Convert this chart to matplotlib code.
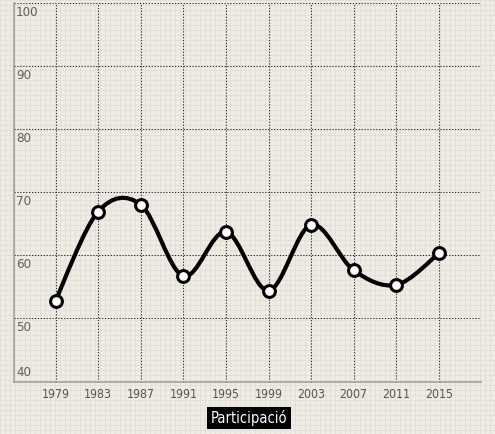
import numpy as np
import matplotlib
matplotlib.use("Agg")
import matplotlib.pyplot as plt
from matplotlib.path import Path
from matplotlib.patches import PathPatch
import matplotlib.transforms as mtransforms

plt.rcParams['font.family'] = ['Liberation Sans Narrow', 'DejaVu Sans']
plt.rcParams['font.stretch'] = 'condensed'

# dades
anys = [1979, 1983, 1987, 1991, 1995, 1999, 2003, 2007, 2011, 2015]
participacio = [52.8, 66.9, 68.0, 56.7, 63.7, 54.4, 64.8, 57.6, 55.3, 60.3]
yticks = [50, 60, 70, 80, 90, 100]
ylabels = ['50', '60', '70', '80', '90', '100']
serie = 'Participació'

W, H = 495, 434
fig = plt.figure(figsize=(W / 100, H / 100), dpi=100)

# fons quadriculat
bg = np.ones((H, W, 3)) * np.array([239, 236, 230]) / 255
line_c = np.array([228, 224, 216]) / 255
for i in range(0, H, 5):
    bg[i, :, :] = line_c
for j in range(0, W, 5):
    bg[:, j, :] = line_c
fig.figimage(bg, xo=0, yo=0, zorder=-10)

ax = fig.add_axes([14 / W, 1 - 381.5 / H, (481 - 14) / W, (381.5 - 2.5) / H])
ax.set_zorder(5)
ax.patch.set_alpha(0)
ax.set_xlim(1975.1, 2018.95)
ax.set_ylim(40, 100)

dot = dict(color='#2a2a2a', lw=0.75, linestyle=(0, (1.2, 1.6)), zorder=1)
for y in yticks:
    ax.axhline(y, **dot)
for x in anys:
    ax.axvline(x, **dot)
ax.axvline(ax.get_xlim()[1], **dot)

for s in ['top', 'right']:
    ax.spines[s].set_visible(False)
for s in ['left', 'bottom']:
    ax.spines[s].set_color('#a0a0a0')
    ax.spines[s].set_linewidth(1.2)

ax.set_yticks([])
ax.set_xticks(anys)
ax.set_xticklabels([str(a) for a in anys], color='#555555', fontsize=8.8)
ax.tick_params(axis='x', length=0, pad=5)

# etiquetes de l'eix y dins del gràfic
trans = mtransforms.blended_transform_factory(ax.transAxes, ax.transData)
off = mtransforms.offset_copy(trans, fig=fig, x=2, y=-3, units='dots')
for y, lab in zip(yticks, ylabels):
    ax.text(0, y, lab, transform=off, ha='left', va='top', color='#606060',
            fontsize=9.5)
off40 = mtransforms.offset_copy(trans, fig=fig, x=2, y=2, units='dots')
ax.text(0, 40, '40', transform=off40, ha='left', va='bottom', color='#606060',
        fontsize=9.5)

# corba suavitzada (Catmull-Rom) amb beziers
x = np.array(anys, dtype=float)
y = np.array(participacio, dtype=float)
n = len(x)
verts = [(x[0], y[0])]
codes = [Path.MOVETO]
for i in range(n - 1):
    p0 = np.array([x[max(i - 1, 0)], y[max(i - 1, 0)]])
    p1 = np.array([x[i], y[i]])
    p2 = np.array([x[i + 1], y[i + 1]])
    p3 = np.array([x[min(i + 2, n - 1)], y[min(i + 2, n - 1)]])
    c1 = p1 + (p2 - p0) / 6
    c2 = p2 - (p3 - p1) / 6
    verts += [tuple(c1), tuple(c2), tuple(p2)]
    codes += [Path.CURVE4] * 3
ax.add_patch(PathPatch(Path(verts, codes), fill=False, edgecolor='black',
                       lw=3.0, capstyle='round', joinstyle='round', zorder=3))
ax.plot(anys, participacio, linestyle='none', marker='o', markersize=8.5,
        markerfacecolor='white', markeredgecolor='black', markeredgewidth=2.2,
        zorder=4)

# llegenda
fig.text(249 / W, 1 - 418 / H, serie, ha='center', va='center', color='white',
         fontsize=10.5,
         bbox=dict(boxstyle='square,pad=0.22', fc='black', ec='none'))

fig.savefig('out.png', dpi=100)
